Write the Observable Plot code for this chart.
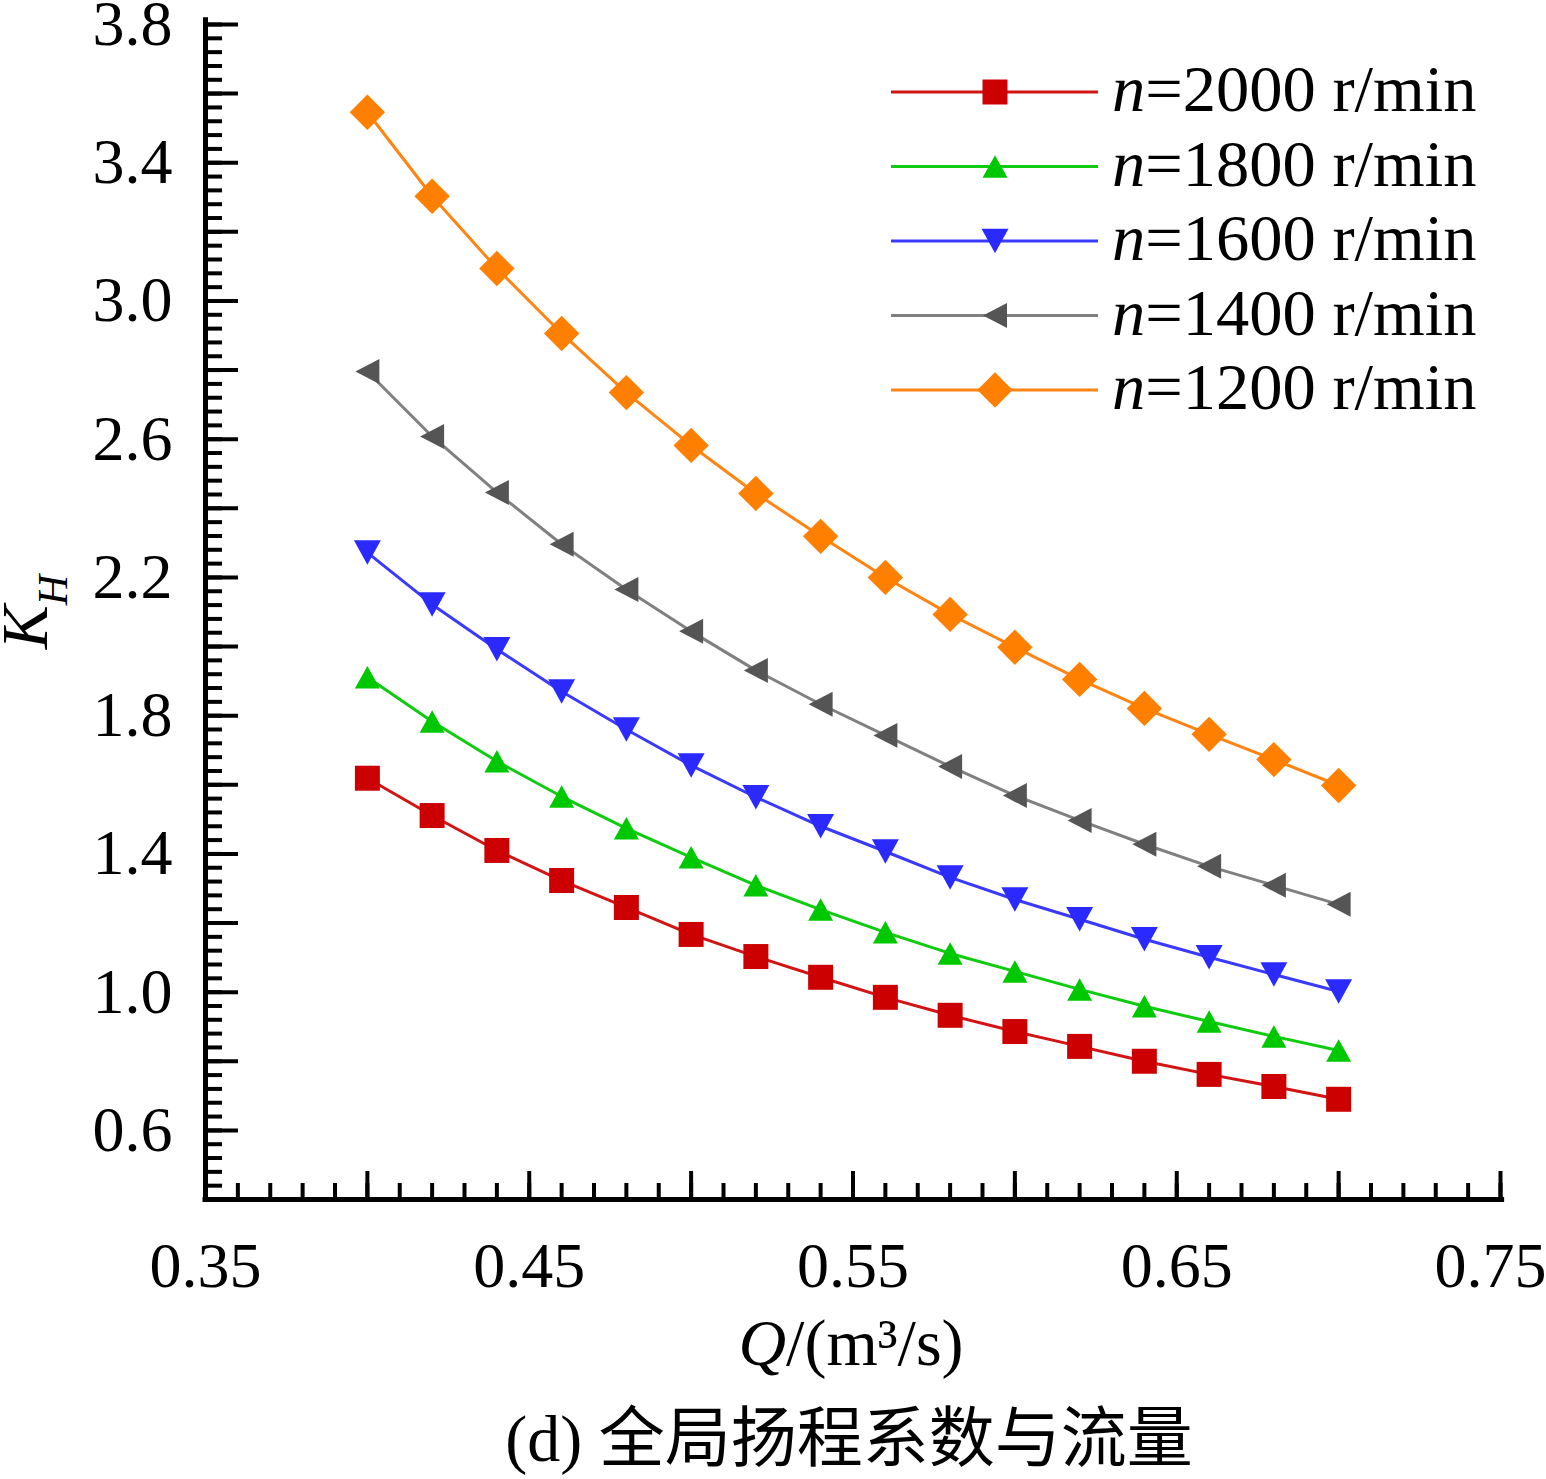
<!DOCTYPE html>
<html>
<head>
<meta charset="utf-8">
<script src="https://cdn.jsdelivr.net/npm/d3@7"></script>
<script src="https://cdn.jsdelivr.net/npm/@observablehq/plot@0.6"></script>
<style>
  html, body { margin: 0; padding: 0; background: #fff; }
  #chart { width: 1546px; }
  #chart svg { display: block; overflow: visible; }
  #caption {
    width: 1546px; height: 89px; box-sizing: border-box;
    padding-left: 152px; padding-top: 8px;
    text-align: center; line-height: 81px;
    font-family: "Liberation Serif", "Noto Sans CJK SC", serif;
    font-size: 66px; color: #000; white-space: nowrap;
  }
</style>
</head>
<body>
<div id="chart"></div>
<div id="caption">(d) 全局扬程系数与流量</div>
<script>
// ---------- data ----------
const flow = [0.40, 0.42, 0.44, 0.46, 0.48, 0.50, 0.52, 0.54, 0.56, 0.58, 0.60, 0.62, 0.64, 0.66, 0.68, 0.70];
const seriesNames = ["2000", "1800", "1600", "1400", "1200"];
const k2000 = [1.619, 1.511, 1.410, 1.323, 1.245, 1.167, 1.103, 1.043, 0.985, 0.933, 0.886, 0.843, 0.800, 0.762, 0.727, 0.690];
const k1800 = [1.911, 1.783, 1.668, 1.566, 1.474, 1.390, 1.309, 1.239, 1.173, 1.112, 1.060, 1.008, 0.959, 0.915, 0.872, 0.831];
const k1600 = [2.272, 2.122, 1.992, 1.870, 1.760, 1.656, 1.564, 1.480, 1.407, 1.332, 1.268, 1.211, 1.153, 1.101, 1.051, 1.002];
const k1400 = [2.796, 2.608, 2.446, 2.296, 2.165, 2.044, 1.931, 1.833, 1.743, 1.653, 1.569, 1.497, 1.428, 1.364, 1.309, 1.254];
const k1200 = [3.546, 3.303, 3.094, 2.906, 2.735, 2.582, 2.443, 2.319, 2.200, 2.093, 1.998, 1.905, 1.821, 1.746, 1.673, 1.598];
const seriesValues = [k2000, k1800, k1600, k1400, k1200];

const xTickLabels = [0.35, 0.45, 0.55, 0.65];
const xTickLabelLast = [0.75];
const yTickLabels = [0.6, 1.0, 1.4, 1.8, 2.2, 2.6, 3.0, 3.4, 3.8];

// ---------- styles ----------
const lineColors   = ["#d21414", "#10cc10", "#3a3aff", "#808080", "#ff8411"];
const markerColors = ["#cc0000", "#00c800", "#2a2aff", "#555555", "#ff8000"];

// custom marker shapes (size = r*r*pi -> s = side length)
const symSquare = { draw(c, size) { const s = Math.sqrt(size) / 2; c.moveTo(-s, -s); c.lineTo(s, -s); c.lineTo(s, s); c.lineTo(-s, s); c.closePath(); } };
const symTriUp = { draw(c, size) { const s = Math.sqrt(size); const w = s / 2, h = 0.45 * s; c.moveTo(0, -h); c.lineTo(w, h); c.lineTo(-w, h); c.closePath(); } };
const symTriDown = { draw(c, size) { const s = Math.sqrt(size); const w = 0.54 * s, h = 0.49 * s; c.moveTo(0, h); c.lineTo(w, -h); c.lineTo(-w, -h); c.closePath(); } };
const symTriLeft = { draw(c, size) { const s = Math.sqrt(size); const w = 0.48 * s, h = 0.5 * s; c.moveTo(-w, 0); c.lineTo(w, -h); c.lineTo(w, h); c.closePath(); } };
const symDiamond = { draw(c, size) { const h = Math.sqrt(size) / Math.SQRT2; c.moveTo(0, -h); c.lineTo(h, 0); c.lineTo(0, h); c.lineTo(-h, 0); c.closePath(); } };
const symbols = [symSquare, symTriUp, symTriDown, symTriLeft, symDiamond];
const markerR = 14.1;

// ---------- table ----------
const rows = [];
seriesNames.forEach((n, i) => flow.forEach((q, j) => rows.push({ series: n, idx: i, q, k: seriesValues[i][j] })));

const yMajor = d3.range(3, 20).map(i => +(i * 0.2).toFixed(2));      // 0.6 .. 3.8
const yMinor = d3.range(10, 96).map(i => +(i * 0.04).toFixed(2));    // 0.4 .. 3.8
const xMajor = d3.range(7, 16).map(i => +(i * 0.05).toFixed(2));     // 0.35 .. 0.75
const xMinor = d3.range(35, 76).map(i => +(i * 0.01).toFixed(2));

const marks = [
  Plot.axisY(yMinor, { tickSize: -17, strokeWidth: 4, tickFormat: () => "", label: null }),
  Plot.axisY(yMajor, { tickSize: -33, strokeWidth: 4, tickFormat: () => "", label: null }),
  Plot.axisY(yTickLabels, { tickSize: 0, tickPadding: 33, tickFormat: d3.format(".1f"), fontSize: 64, label: null }),
  Plot.axisX(xMinor, { tickSize: -16, strokeWidth: 4, tickFormat: () => "", label: null }),
  Plot.axisX(xMajor, { tickSize: -28, strokeWidth: 4, tickFormat: () => "", label: null }),
  Plot.axisX(xTickLabels, { tickSize: 0, tickPadding: 42, tickFormat: d3.format(".2f"), fontSize: 64, label: null }),
  Plot.axisX(xTickLabelLast, { tickSize: 0, tickPadding: 42, tickFormat: d3.format(".2f"), fontSize: 64, label: null, dx: -10 }),
  Plot.ruleX([0.35], { x: d => d, y1: 0.4, y2: 3.812, strokeWidth: 5, strokeLinecap: "square" }),
  Plot.ruleY([0.4], { y: d => d, x1: 0.35, x2: 0.7505, strokeWidth: 5, strokeLinecap: "square" })
];
seriesNames.forEach((n, i) => {
  const d = rows.filter(r => r.idx === i);
  marks.push(Plot.line(d, { x: "q", y: "k", stroke: lineColors[i], strokeWidth: 3 }));
  marks.push(Plot.dot(d, { x: "q", y: "k", r: markerR, symbol: symbols[i], fill: markerColors[i], stroke: "none" }));
});

const chart = Plot.plot({
  width: 1546,
  height: 1390,
  marginLeft: 205,
  marginRight: 46,
  marginTop: 24,
  marginBottom: 191,
  x: { domain: [0.35, 0.75] },
  y: { domain: [0.4, 3.8] },
  style: { fontFamily: "'Liberation Serif', 'Times New Roman', serif", fontSize: "64px", color: "#000", background: "#fff", overflow: "visible" },
  marks
});
document.getElementById("chart").appendChild(chart);

// ---------- axis titles & legend ----------
const svg = d3.select(chart);
const serif = "'Liberation Serif', 'Times New Roman', serif";

const yl = svg.append("text")
  .attr("transform", "translate(47,612) rotate(-90)")
  .attr("text-anchor", "middle")
  .attr("font-family", serif).attr("font-size", 66).attr("fill", "#000");
yl.append("tspan").attr("font-style", "italic").text("K");
yl.append("tspan").attr("font-style", "italic").attr("font-size", 42).attr("dy", 20).text("H");

const xl = svg.append("text")
  .attr("x", 851).attr("y", 1365)
  .attr("text-anchor", "middle")
  .attr("font-family", serif).attr("font-size", 66).attr("fill", "#000");
xl.append("tspan").attr("font-style", "italic").text("Q");
xl.append("tspan").text("/(m³/s)");

const lg = svg.append("g");
seriesNames.forEach((n, i) => {
  const yy = 92 + i * 74.5;
  lg.append("line").attr("x1", 891).attr("x2", 1098).attr("y1", yy).attr("y2", yy)
    .attr("stroke", lineColors[i]).attr("stroke-width", 3);
  const p = d3.path();
  symbols[i].draw(p, markerR * markerR * Math.PI);
  lg.append("path").attr("d", p.toString()).attr("transform", `translate(995,${yy})`).attr("fill", markerColors[i]);
  const t = lg.append("text").attr("x", 1112).attr("y", yy + 19).attr("text-anchor", "start")
    .attr("font-family", serif).attr("font-size", 66.5).attr("fill", "#000");
  t.append("tspan").attr("font-style", "italic").text("n");
  t.append("tspan").text("=" + n + " r/min");
});
</script>
</body>
</html>
